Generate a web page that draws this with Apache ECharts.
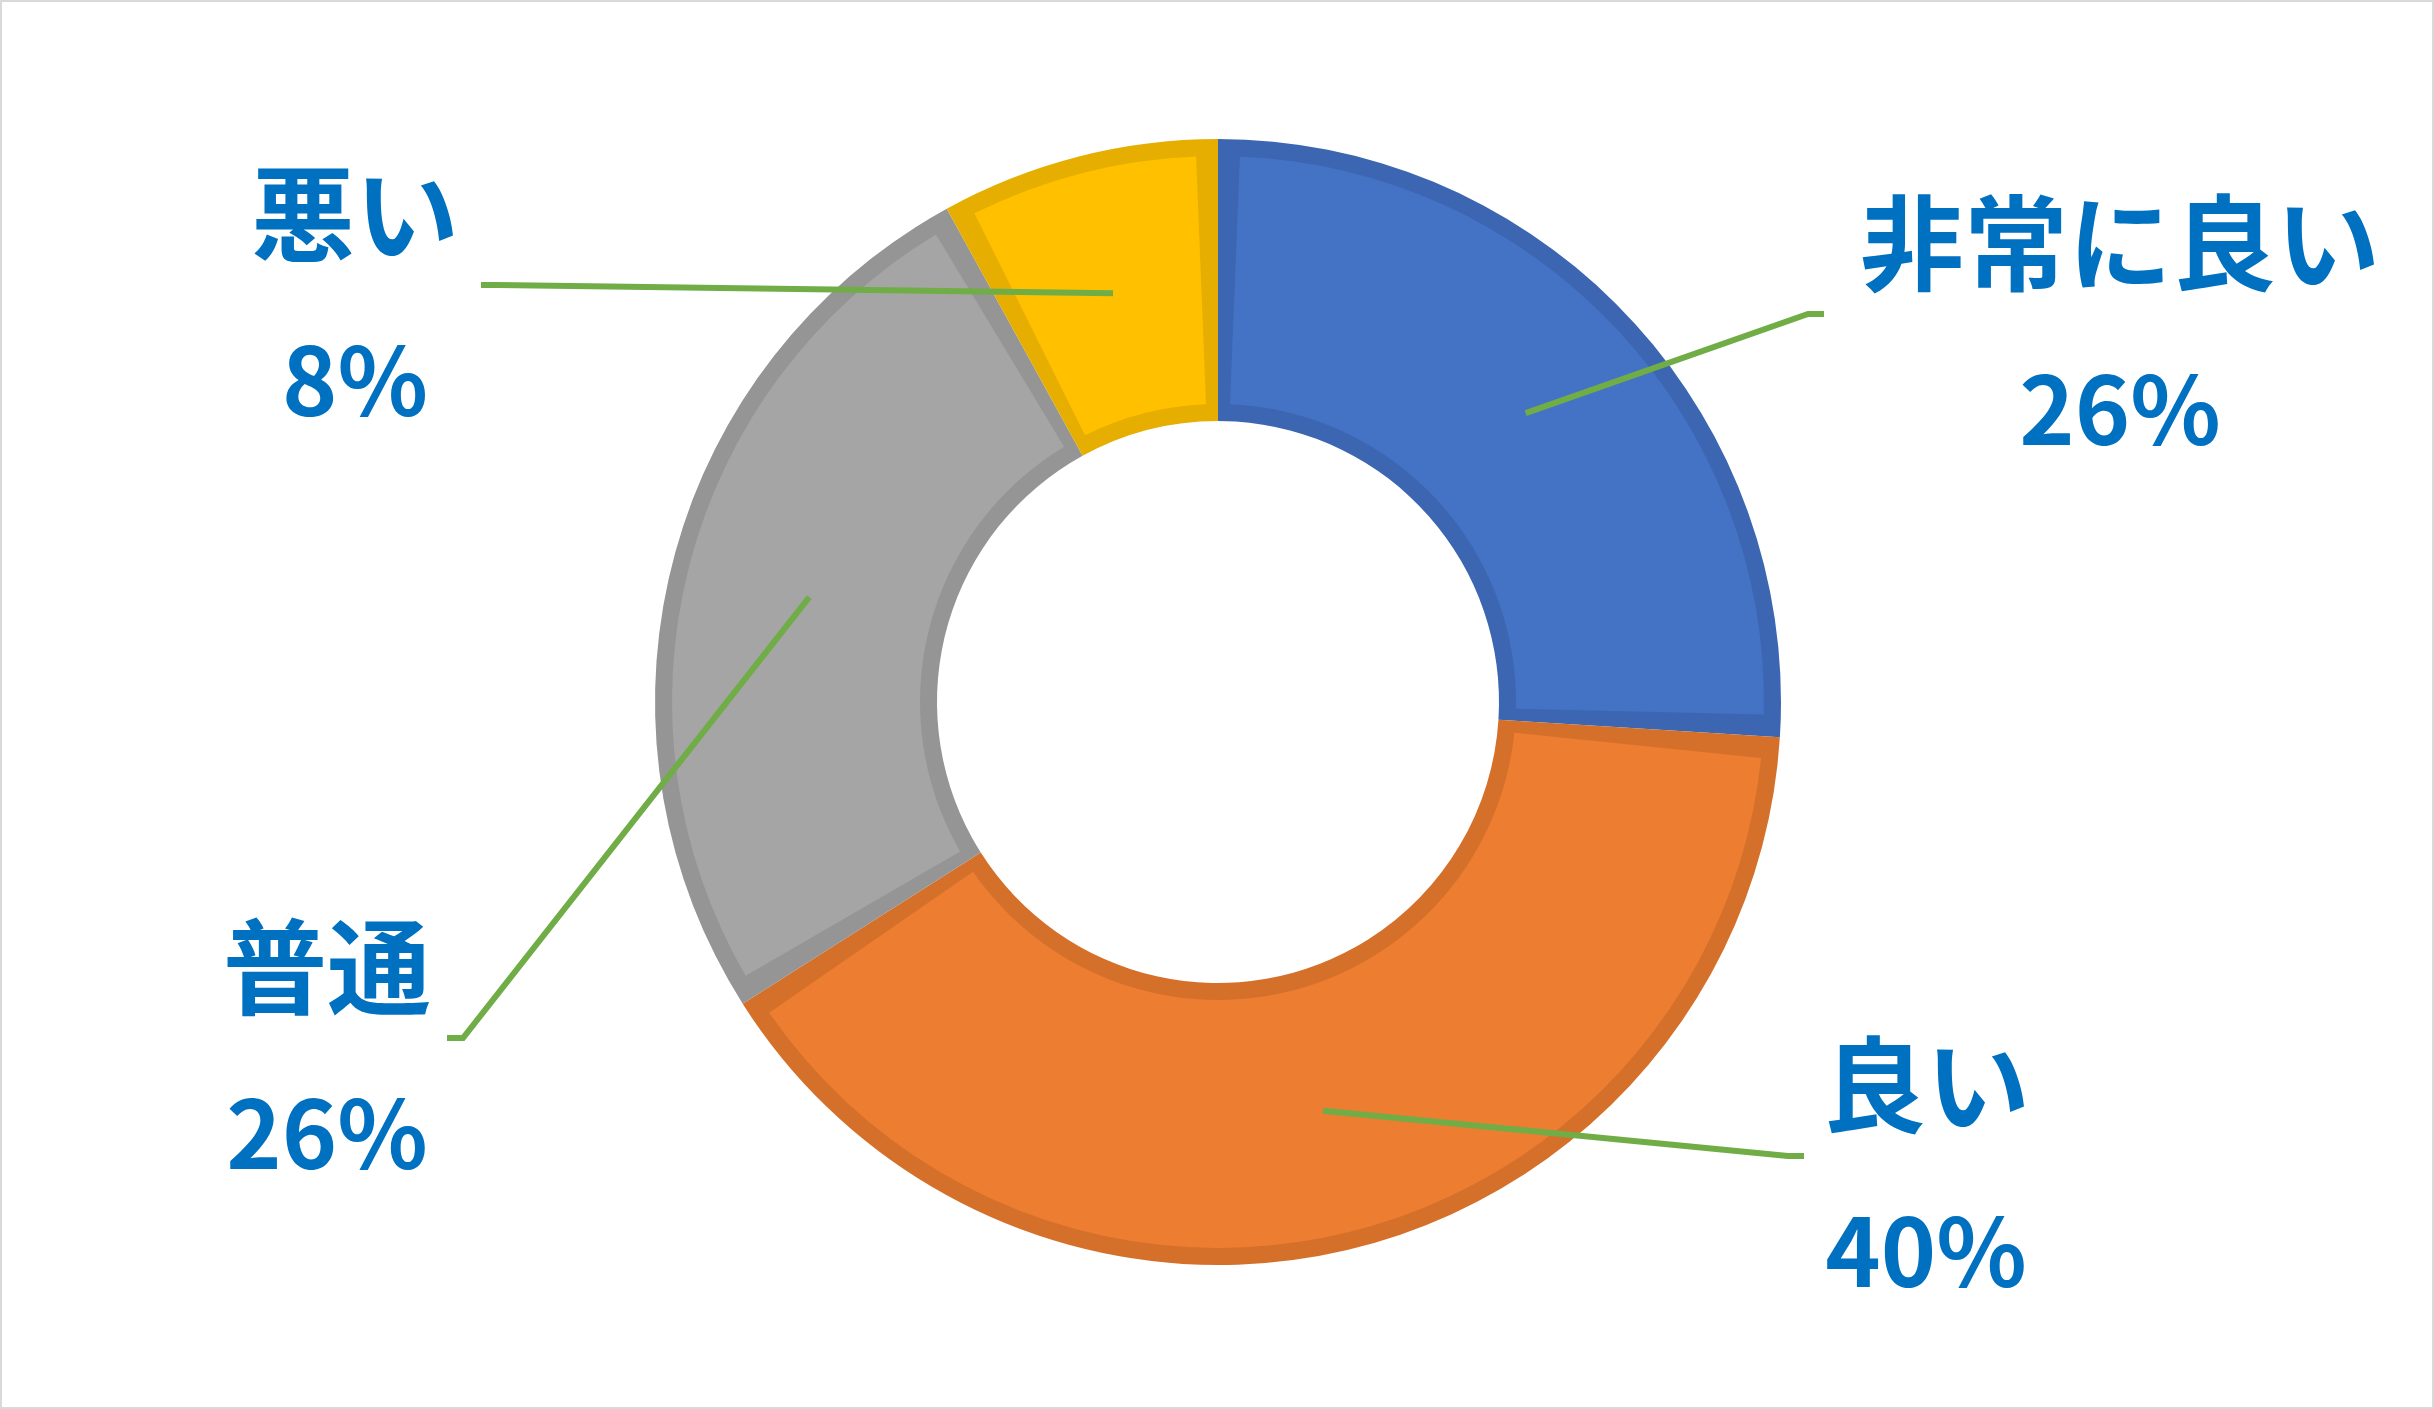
<!doctype html>
<html lang="ja">
<head>
    <meta charset="UTF-8">
    <title>評価の割合</title>
    <script src="https://cdn.jsdelivr.net/npm/echarts@6/dist/echarts.min.js"></script>
    <style>
        html, body { margin: 0; padding: 0; background: #fff; }
        #main {
            width: 2434px; height: 1409px;
            box-sizing: border-box;
            border: 2px solid #d9d9d9;
        }
    </style>
</head>
<body>
<div id="main"></div>

<script type="text/javascript">
    // 項目とデータ（時計回り、12時から）
    var names  = ['非常に良い', '良い', '普通', '悪い'];
    var values = [26, 40, 26, 8];

    // 色
    var fillColors   = ['#4472C4', '#ED7D31', '#A5A5A5', '#FFC000'];
    var borderColors = ['#3C66B1', '#D5702B', '#959595', '#E5AE00'];

    // ラベルの位置（中心）、引き出し線の向きと隙間
    var labelX    = [2118, 1924, 325, 353];
    var labelY    = [324, 1166, 1048, 295];
    var labelSide = ['left', 'left', 'right', 'right'];
    var labelGap  = [36, 18, 16, 22];

    var center = [1216, 700];
    var outerR = 563, innerR = 281, borderW = 17;

    function makeData(colors) {
        var arr = [];
        for (var i = 0; i < names.length; i++) {
            arr.push({ name: names[i], value: values[i], itemStyle: { color: colors[i] } });
        }
        return arr;
    }

    var myChart = echarts.init(document.getElementById('main'));

    myChart.setOption({
        animation: false,
        series: [
            {   // 枠（下の層）
                type: 'pie',
                silent: true,
                z: 1,
                center: center,
                radius: [innerR, outerR],
                startAngle: 90,
                clockwise: true,
                label: { show: false },
                labelLine: { show: false },
                data: makeData(borderColors)
            },
            {   // 塗り（上の層）
                type: 'pie',
                silent: true,
                z: 2,
                center: center,
                radius: [innerR + borderW, outerR - borderW],
                startAngle: 90,
                clockwise: true,
                padAngle: 4.6,
                label: { show: false },
                labelLine: { show: false },
                data: makeData(fillColors)
            },
            {   // ラベルと引き出し線
                type: 'pie',
                silent: true,
                z: 5,
                center: center,
                radius: [0, (innerR + outerR) / 2],
                startAngle: 90,
                clockwise: true,
                avoidLabelOverlap: false,
                itemStyle: { color: 'rgba(0,0,0,0)' },
                label: {
                    show: true,
                    position: 'outside',
                    formatter: '{n|{b}}\n{p|{d}%}',
                    color: '#0070C0',
                    fontFamily: '"Noto Sans CJK JP", sans-serif',
                    fontWeight: 'bold',
                    align: 'center',
                    rich: {
                        n: {
                            color: '#0070C0',
                            fontFamily: '"Noto Sans CJK JP", sans-serif',
                            fontWeight: 'bold',
                            fontSize: 104,
                            lineHeight: 166
                        },
                        p: {
                            color: '#0070C0',
                            fontFamily: '"Noto Sans CJK JP", sans-serif',
                            fontWeight: 'bold',
                            fontSize: 94,
                            lineHeight: 166
                        }
                    }
                },
                labelLine: {
                    show: true,
                    length: 20,
                    length2: 16,
                    lineStyle: { color: '#70AD47', width: 6 }
                },
                labelLayout: function (p) {
                    var i = p.dataIndex;
                    var w = p.labelRect.width;
                    var cx = labelX[i], cy = labelY[i];
                    var ly = cy - 12;
                    var ex, mx;
                    if (labelSide[i] === 'left') {
                        ex = cx - w / 2 - labelGap[i];
                        mx = ex - 16;
                    } else {
                        ex = cx + w / 2 + labelGap[i];
                        mx = ex + 16;
                    }
                    var a = p.labelLinePoints ? p.labelLinePoints[0] : [mx, ly];
                    return {
                        x: cx, y: cy,
                        align: 'center',
                        verticalAlign: 'middle',
                        labelLinePoints: [a, [mx, ly], [ex, ly]]
                    };
                },
                data: makeData(['rgba(0,0,0,0)', 'rgba(0,0,0,0)', 'rgba(0,0,0,0)', 'rgba(0,0,0,0)'])
            }
        ]
    });

    window.onresize = function () {
        myChart.resize();
    };
</script>
</body>
</html>
